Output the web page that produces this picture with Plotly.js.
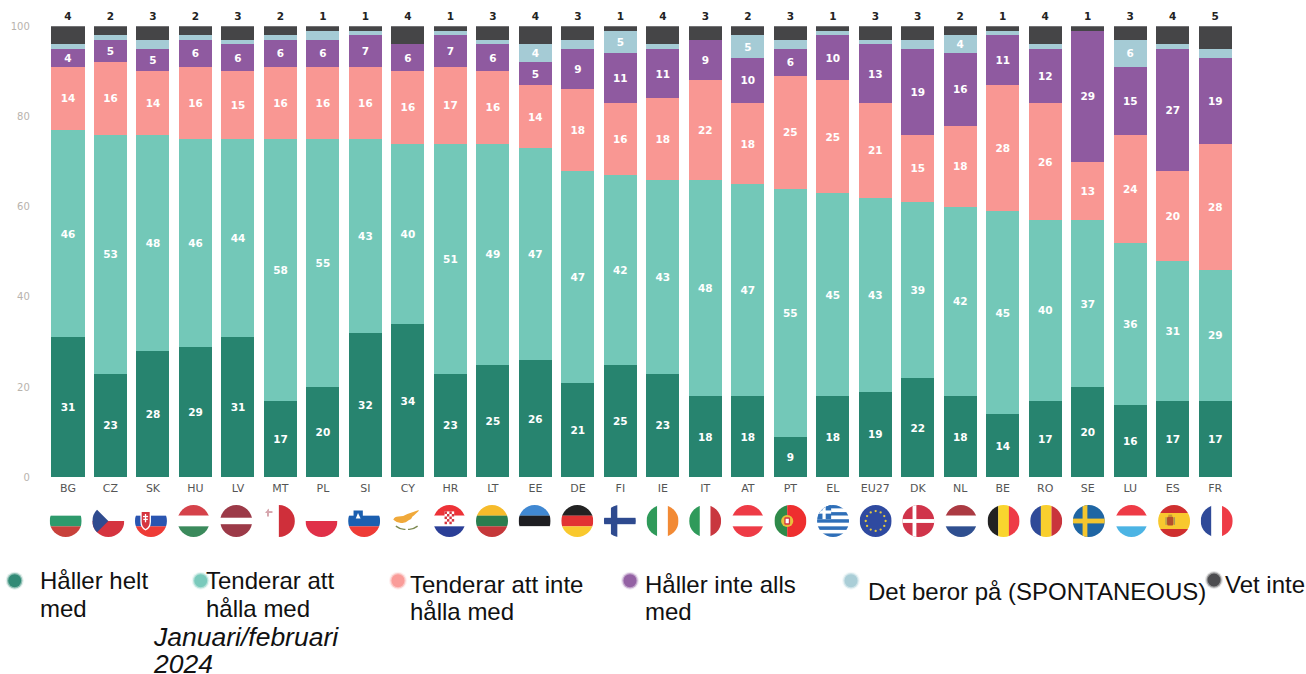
<!DOCTYPE html>
<html>
<head>
<meta charset="utf-8">
<script src="https://cdn.plot.ly/plotly-3.0.1.min.js"></script>
<style>html,body{margin:0;padding:0;background:#fff}#chart{width:1306px;height:674px}</style>
</head>
<body>
<div id="chart"></div>
<script>
const countries = ["BG","CZ","SK","HU","LV","MT","PL","SI","CY","HR","LT","EE","DE","FI","IE","IT","AT","PT","EL","EU27","DK","NL","BE","RO","SE","LU","ES","FR"];
const hallerHeltMed =      [31,23,28,29,31,17,20,32,34,23,25,26,21,25,23,18,18, 9,18,19,22,18,14,17,20,16,17,17];
const tenderarAttHalla =   [46,53,48,46,44,58,55,43,40,51,49,47,47,42,43,48,47,55,45,43,39,42,45,40,37,36,31,29];
const tenderarAttInte =    [14,16,14,16,15,16,16,16,16,17,16,14,18,16,18,22,18,25,25,21,15,18,28,26,13,24,20,28];
const hallerInteAlls =     [ 4, 5, 5, 6, 6, 6, 6, 7, 6, 7, 6, 5, 9,11,11, 9,10, 6,10,13,19,16,11,12,29,15,27,19];
const detBeror =           [ 1, 1, 2, 1, 1, 1, 2, 1, 0, 1, 1, 4, 2, 5, 1, 0, 5, 2, 1, 1, 2, 4, 1, 1, 0, 6, 1, 2];
const vetInte =            [ 4, 2, 3, 2, 3, 2, 1, 1, 4, 1, 3, 4, 3, 1, 4, 3, 2, 3, 1, 3, 3, 2, 1, 4, 1, 3, 4, 5];
const seriesNames = ["Håller helt med","Tenderar att hålla med","Tenderar att inte hålla med","Håller inte alls med","Det beror på (SPONTANEOUS)","Vet inte"];
const seriesValues = [hallerHeltMed,tenderarAttHalla,tenderarAttInte,hallerInteAlls,detBeror,vetInte];
const seriesColors = ["#27846f","#73c8b8","#f99793","#8f5aa0","#a5cbd5","#454547"];
const minLabelValue = 4;

const W = 1306, H = 674;
const px = v => v / W, py = v => 1 - v / H;

const traces = seriesValues.slice(0,5).map((vals,i)=>({
  type:"bar", name:seriesNames[i], x:countries, y:vals,
  marker:{color:seriesColors[i],line:{width:0}},
  text:vals.map(v=>v>=minLabelValue?String(v):""),
  textposition:"inside", insidetextanchor:"middle", textangle:0, constraintext:"none",
  insidetextfont:{family:"DejaVu Sans",size:10.5,color:"#ffffff",weight:700},
  hoverinfo:"x+y+name", showlegend:false
}));
traces.push({
  type:"bar", name:seriesNames[5], x:countries, y:vetInte,
  marker:{color:seriesColors[5],line:{width:0}}, textposition:"none",
  hoverinfo:"x+y+name", showlegend:false
});
const totals = countries.map((c,i)=>seriesValues.reduce((s,a)=>s+a[i],0));
traces.push({
  type:"scatter", mode:"markers+text", x:countries, y:totals, text:vetInte.map(String),
  marker:{size:5,opacity:0},
  textposition:"top center", cliponaxis:false,
  textfont:{family:"DejaVu Sans",size:10.5,color:"#222222",weight:700},
  hoverinfo:"skip", showlegend:false
});

/* ---------- flags ---------- */
const hs = (cols,ws) => { let y=0,o=""; const t=ws?ws.reduce((a,b)=>a+b,0):cols.length;
  cols.forEach((c,i)=>{const h=(ws?ws[i]:1)*100/t;o+=`<rect x="0" y="${y}" width="100" height="${h+0.3}" fill="${c}"/>`;y+=h;});return o;};
const vs = (cols,ws) => { let x=0,o=""; const t=ws?ws.reduce((a,b)=>a+b,0):cols.length;
  cols.forEach((c,i)=>{const w=(ws?ws[i]:1)*100/t;o+=`<rect x="${x}" y="0" width="${w+0.3}" height="100" fill="${c}"/>`;x+=w;});return o;};
const cross = (bg,fg,cx,w) => `<rect width="100" height="100" fill="${bg}"/><rect x="${cx-w/2}" width="${w}" height="100" fill="${fg}"/><rect y="${50-w/2}" width="100" height="${w}" fill="${fg}"/>`;
const euStars = () => { let o=""; for(let k=0;k<12;k++){const a=k*Math.PI/6;o+=`<circle cx="${50+31*Math.cos(a)}" cy="${50+31*Math.sin(a)}" r="3.6" fill="#e5c93c"/>`;} return o; };
const hrCheck = () => { let o='<rect x="35" y="20" width="30" height="40" fill="#fff"/>';
  for(let r=0;r<5;r++)for(let c=0;c<4;c++) if((r+c)%2===0) o+=`<rect x="${35+c*7.5}" y="${20+r*8}" width="7.5" height="8" fill="#d5343f"/>`; return o; };
const elFlag = () => { let o=hs(["#2f6fb8","#fff","#2f6fb8","#fff","#2f6fb8","#fff","#2f6fb8","#fff","#2f6fb8"]);
  o+='<rect width="44" height="44" fill="#2f6fb8"/><rect x="17" width="10" height="44" fill="#fff"/><rect y="17" width="44" height="10" fill="#fff"/>'; return o; };
const flags = {
  BG:hs(["#fff","#2e9a6c","#c8413b"]),
  CZ:hs(["#fff","#d5343f"])+'<path d="M0 0L50 50L0 100Z" fill="#2f4b8f"/>',
  SK:hs(["#fff","#2a55b0","#ee3b36"])+'<path d="M17 18H50V52Q50 72 33 80Q17 72 17 52Z" fill="#fff"/><path d="M21 22H46V52Q46 68 33 75Q21 68 21 52Z" fill="#d5343f"/><rect x="31" y="28" width="4" height="26" fill="#fff"/><rect x="25" y="34" width="16" height="4" fill="#fff"/><rect x="26" y="43" width="14" height="4" fill="#fff"/>',
  HU:hs(["#d5424a","#fff","#3b8a5c"]),
  LV:hs(["#9c3a48","#fff","#9c3a48"],[2,1,2]),
  MT:vs(["#fff","#cf2f3a"])+'<rect x="13" y="8" width="6" height="28" fill="#d6a6ad"/><rect x="2" y="19" width="28" height="6" fill="#d6a6ad"/>',
  PL:hs(["#fff","#e03048"]),
  SI:hs(["#fff","#1b5fb0","#ee3b36"])+'<path d="M17 17H46V42Q46 52 31.5 58Q17 52 17 42Z" fill="#1b5fb0"/><path d="M24 42L31 25L39 42Z" fill="#fff"/>',
  CY:'<rect width="100" height="100" fill="#fff"/><path d="M8 46Q12 36 24 36Q40 36 52 28Q70 22 92 14Q76 30 68 36Q66 44 56 48Q46 58 32 56Q16 54 8 46Z" fill="#f0a93a"/><path d="M16 66Q32 78 46 76" stroke="#7e8a52" stroke-width="4" fill="none"/><path d="M84 66Q68 78 54 76" stroke="#7e8a52" stroke-width="4" fill="none"/>',
  HR:hs(["#ed3237","#fff","#2b3f97"])+hrCheck(),
  LT:hs(["#f6bb2b","#2b7d4f","#c5383a"]),
  EE:hs(["#4088d2","#1e1e22","#fff"]),
  DE:hs(["#222222","#e23333","#f9c92e"]),
  FI:cross("#fff","#2e4a8f",32,20),
  IE:vs(["#2f9a5a","#fff","#f28a35"]),
  IT:vs(["#2f9a5a","#fff","#c9373f"]),
  AT:hs(["#ee3b46","#fff","#ee3b46"]),
  PT:vs(["#2f8a4a","#ee2f2f"],[2,3])+'<circle cx="40" cy="50" r="19" fill="#e9c13d"/><rect x="31" y="38" width="18" height="24" rx="4" fill="#d5343f"/><rect x="35" y="43" width="10" height="14" fill="#fff"/>',
  EL:elFlag(),
  EU27:'<rect width="100" height="100" fill="#2f4aa0"/>'+euStars(),
  DK:cross("#d0344a","#fff",38,12),
  NL:hs(["#ab3a42","#fff","#2f4f90"]),
  BE:vs(["#222222","#f9d52e","#ee3b46"]),
  RO:vs(["#2f4a98","#f9cf2e","#c9343c"]),
  SE:cross("#1f66a4","#f4c62f",38,15),
  LU:hs(["#ee3b46","#fff","#4cb4e4"]),
  ES:hs(["#cf2f2f","#f8c82e","#cf2f2f"],[1,2,1])+'<rect x="28" y="36" width="20" height="28" rx="5" fill="#b5502c"/><rect x="23" y="38" width="4" height="24" fill="#a89a5a"/><rect x="49" y="38" width="4" height="24" fill="#a89a5a"/><rect x="32" y="30" width="12" height="6" fill="#c29a3a"/>',
  FR:vs(["#2f4a98","#fff","#ee3b46"])
};
const flagUri = k => "data:image/svg+xml;charset=utf-8," + encodeURIComponent(
  `<svg xmlns="http://www.w3.org/2000/svg" width="100" height="100" viewBox="0 0 100 100"><defs><clipPath id="c"><circle cx="50" cy="50" r="50"/></clipPath></defs><g clip-path="url(#c)">${flags[k]}</g></svg>`);
const flagFirstX = 65.7, flagStep = 42.63, flagY = 505, flagSize = 32;
const images = countries.map((c,i)=>({
  source:flagUri(c), xref:"paper", yref:"paper",
  x:px(flagFirstX+flagStep*i), y:py(flagY), sizex:flagSize/W, sizey:flagSize/H,
  xanchor:"center", yanchor:"top", sizing:"stretch", layer:"above"
}));

/* ---------- legend ---------- */
const legendDots = [[14.7,580.7],[200.7,580.7],[398,580.7],[630,580.7],[851,580.7],[1214,580]];
const legendLines = [
  ["Håller helt",39,580.5],["med",39,608.5],
  ["Tenderar att",205,580.5],["hålla med",205,608.5],
  ["Tenderar att inte",408.5,584],["hålla med",408.5,611.5],
  ["Håller inte alls",643.5,584],["med",643.5,611.5],
  ["Det beror på (SPONTANEOUS)",867,591.5],
  ["Vet inte",1223.5,584]
];
const noteLines = [["Januari/februari",151.5,636.5],["2024",151.5,663.5]];
const annot = (t,x,y,italic) => ({
  text:t, xref:"paper", yref:"paper", x:px(x), y:py(y), xanchor:"left", yanchor:"middle",
  showarrow:false, align:"left", borderpad:0,
  font:{family:"Liberation Sans, Arial, sans-serif",size:italic?26.5:24,color:"#111111",style:italic?"italic":"normal"}
});
const annotations = legendLines.map(l=>annot(l[0],l[1],l[2],false)).concat(noteLines.map(l=>annot(l[0],l[1],l[2],true)));
const dot = (c,x,y,r,op) => ({type:"circle",xref:"paper",yref:"paper",xsizemode:"pixel",ysizemode:"pixel",
  xanchor:px(x),yanchor:py(y),x0:-r,x1:r,y0:-r,y1:r,fillcolor:c,opacity:op,line:{width:0},layer:"above"});
const shapes = [];
legendDots.forEach((p,i)=>{
  shapes.push(dot(seriesColors[i],p[0],p[1],9,0.14));
  shapes.push(dot(seriesColors[i],p[0],p[1],7.7,0.45));
  shapes.push(dot(seriesColors[i],p[0],p[1],6.5,0.9));
});

const layout = {
  width:W, height:H, autosize:false,
  margin:{l:0,r:0,t:0,b:0,pad:0},
  paper_bgcolor:"#ffffff", plot_bgcolor:"#ffffff",
  barmode:"stack", bargap:0.223, showlegend:false,
  xaxis:{domain:[px(46.75),px(1236.45)],type:"category",categoryorder:"array",categoryarray:countries,range:[-0.5,27.5],
    showgrid:false,zeroline:false,showline:false,ticks:"",ticklabelstandoff:3,tickangle:0,
    tickfont:{family:"DejaVu Sans",size:11,color:"#555555"}},
  yaxis:{domain:[py(477.3),py(26.3)],range:[0,100],tickvals:[0,20,40,60,80,100],
    showgrid:false,zeroline:false,showline:false,ticks:"",ticklabelstandoff:16,
    tickfont:{family:"DejaVu Sans",size:10,color:"#b8b3ad"}},
  images, shapes, annotations
};
Plotly.newPlot("chart",traces,layout,{displayModeBar:false,responsive:false});
</script>
</body>
</html>
